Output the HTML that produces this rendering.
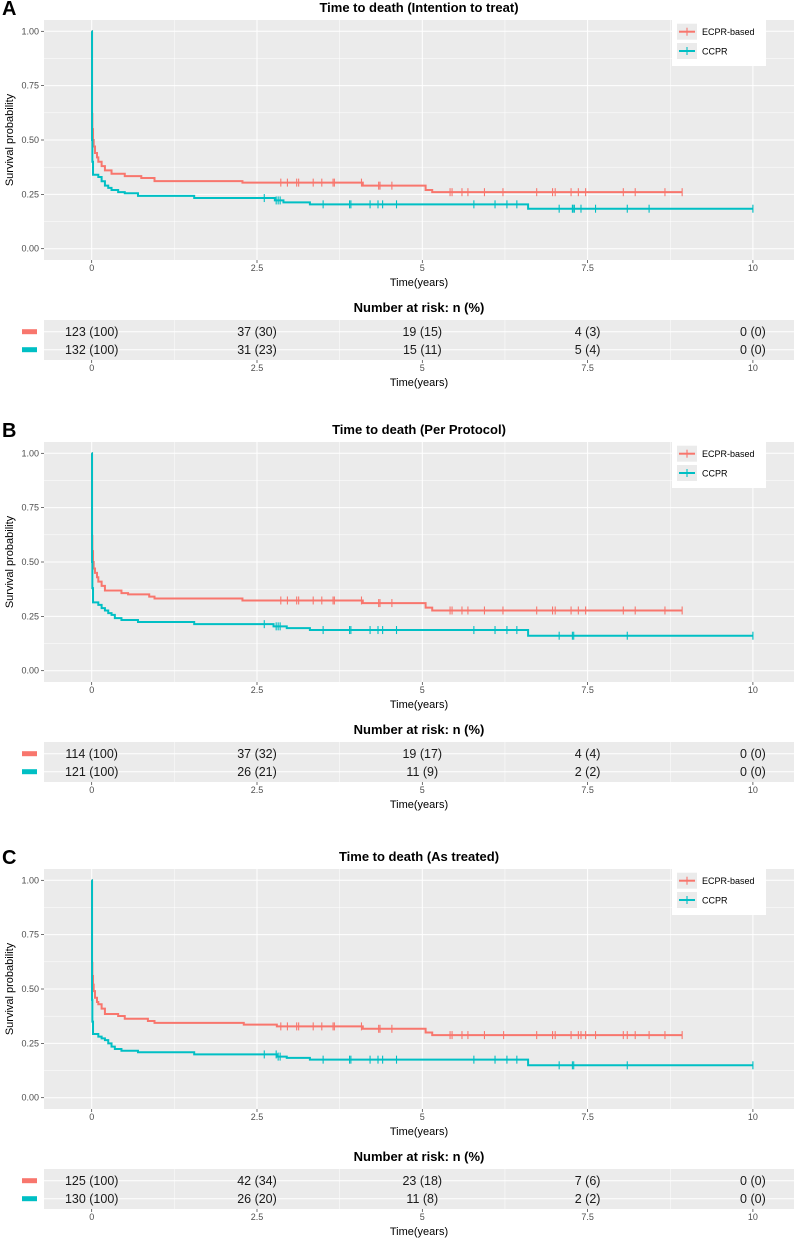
<!DOCTYPE html>
<html><head><meta charset="utf-8"><title>Kaplan-Meier survival</title>
<style>
html,body{margin:0;padding:0;background:#fff;}
svg{display:block;font-family:"Liberation Sans",Arial,sans-serif;}
</style></head>
<body>
<svg id="fig" width="794" height="1239" viewBox="0 0 794 1239" xmlns="http://www.w3.org/2000/svg"></svg>
<script>
// ---------- data ----------
const panelLetters = ["A","B","C"];
const panelTitles = ["Time to death (Intention to treat)","Time to death (Per Protocol)","Time to death (As treated)"];
const groupNames = ["ECPR-based","CCPR"];
const yTicks = [0,0.25,0.5,0.75,1];
const yTickLabels = ["0.00","0.25","0.50","0.75","1.00"];
const xTicks = [0,2.5,5,7.5,10];
const xTickLabels = ["0","2.5","5","7.5","10"];

const ecprTimesA = [0,0.005,0.01,0.02,0.03,0.05,0.08,0.1,0.15,0.2,0.3,0.5,0.75,0.95,2.28,4.1,5.05,5.15];
const ecprSurvA  = [1,0.62,0.55,0.5,0.47,0.44,0.42,0.40,0.38,0.36,0.345,0.334,0.325,0.311,0.304,0.29,0.27,0.26];
const ccprTimesA = [0,0.005,0.01,0.02,0.1,0.15,0.2,0.25,0.3,0.4,0.5,0.7,1.55,2.77,2.9,3.3,6.6];
const ccprSurvA  = [1,0.5,0.4,0.34,0.33,0.31,0.29,0.28,0.27,0.26,0.255,0.243,0.233,0.222,0.213,0.204,0.184];

const ecprTimesB = [0,0.005,0.01,0.02,0.03,0.05,0.08,0.1,0.15,0.2,0.45,0.55,0.87,0.95,2.28,4.1,5.05,5.15];
const ecprSurvB  = [1,0.62,0.55,0.5,0.47,0.45,0.43,0.41,0.39,0.369,0.357,0.351,0.341,0.332,0.323,0.311,0.29,0.277];
const ccprTimesB = [0,0.005,0.01,0.02,0.1,0.15,0.2,0.25,0.3,0.35,0.45,0.7,1.55,2.75,2.95,3.3,6.6];
const ccprSurvB  = [1,0.5,0.38,0.314,0.303,0.288,0.277,0.265,0.257,0.242,0.233,0.224,0.214,0.204,0.196,0.187,0.161];

const ecprTimesC = [0,0.005,0.01,0.02,0.03,0.05,0.08,0.1,0.15,0.2,0.4,0.5,0.85,0.95,2.3,2.8,4.1,5.05,5.15];
const ecprSurvC  = [1,0.62,0.56,0.52,0.49,0.46,0.44,0.43,0.41,0.385,0.376,0.363,0.353,0.344,0.336,0.328,0.317,0.30,0.288];
const ccprTimesC = [0,0.005,0.01,0.02,0.1,0.15,0.2,0.25,0.3,0.35,0.45,0.7,1.55,2.8,2.95,3.3,6.6];
const ccprSurvC  = [1,0.45,0.35,0.293,0.281,0.273,0.265,0.25,0.235,0.224,0.216,0.209,0.199,0.189,0.183,0.175,0.149];

const ecprEnd = [8.93,8.93,8.93];
const ccprEnd = [10,10,10];

const ecprCensorA = [2.86,2.96,3.10,3.13,3.35,3.48,3.65,3.67,4.08,4.34,4.36,4.54,5.42,5.45,5.60,5.69,5.94,6.22,6.73,6.97,7.01,7.25,7.36,7.47,8.04,8.22,8.67,8.93];
const ccprCensorA = [2.61,2.79,2.82,2.85,3.50,3.90,3.92,4.21,4.33,4.40,4.61,5.78,6.10,6.28,6.43,7.07,7.27,7.28,7.30,7.40,7.62,8.10,8.43,10.0];
const ecprCensorB = [2.86,2.96,3.10,3.13,3.35,3.48,3.65,3.67,4.08,4.34,4.36,4.54,5.42,5.45,5.60,5.69,5.94,6.22,6.73,6.97,7.01,7.25,7.36,7.47,8.04,8.22,8.67,8.93];
const ccprCensorB = [2.61,2.79,2.82,2.85,3.50,3.90,3.92,4.21,4.33,4.40,4.61,5.78,6.10,6.28,6.43,7.07,7.27,7.29,8.10,10.0];
const ecprCensorC = [2.86,2.96,3.10,3.13,3.35,3.48,3.65,3.67,4.08,4.34,4.36,4.54,5.42,5.45,5.60,5.69,5.94,6.23,6.73,6.97,7.01,7.25,7.36,7.40,7.47,7.62,8.04,8.10,8.22,8.43,8.67,8.93];
const ccprCensorC = [2.61,2.79,2.82,2.85,3.50,3.90,3.92,4.21,4.33,4.40,4.61,5.78,6.10,6.28,6.43,7.07,7.27,7.29,8.10,10.0];

const riskEcprA = ["123 (100)","37 (30)","19 (15)","4 (3)","0 (0)"];
const riskCcprA = ["132 (100)","31 (23)","15 (11)","5 (4)","0 (0)"];
const riskEcprB = ["114 (100)","37 (32)","19 (17)","4 (4)","0 (0)"];
const riskCcprB = ["121 (100)","26 (21)","11 (9)","2 (2)","0 (0)"];
const riskEcprC = ["125 (100)","42 (34)","23 (18)","7 (6)","0 (0)"];
const riskCcprC = ["130 (100)","26 (20)","11 (8)","2 (2)","0 (0)"];

const panelOffsets = [0,422,849];

// ---------- rendering ----------
const NS="http://www.w3.org/2000/svg";
const svg=document.getElementById('fig');
const COLORS=["#F8766D","#00BFC4"];
const PL=44, PR=794;
function sx(t){return 91.7+t*66.12;}
function mk(tag,attrs,parent,text){const e=document.createElementNS(NS,tag);for(const k in attrs)e.setAttribute(k,attrs[k]);if(text!==undefined)e.textContent=text;parent.appendChild(e);return e;}

const allData=[
 {et:ecprTimesA,es:ecprSurvA,ct:ccprTimesA,cs:ccprSurvA,ec:ecprCensorA,cc:ccprCensorA,re:riskEcprA,rc:riskCcprA},
 {et:ecprTimesB,es:ecprSurvB,ct:ccprTimesB,cs:ccprSurvB,ec:ecprCensorB,cc:ccprCensorB,re:riskEcprB,rc:riskCcprB},
 {et:ecprTimesC,es:ecprSurvC,ct:ccprTimesC,cs:ccprSurvC,ec:ecprCensorC,cc:ccprCensorC,re:riskEcprC,rc:riskCcprC}
];

function survAt(times,surv,t){let s=surv[0];for(let i=0;i<times.length;i++){if(times[i]<=t)s=surv[i];}return s;}

for(let p=0;p<3;p++){
  const off=panelOffsets[p], d=allData[p];
  const sy=v=>off+248.7-v*217.4;
  const g=mk('g',{},svg);
  
  
  const letter=mk('text',{x:2,y:off+15,'font-size':20,'font-weight':'bold',fill:'#000'},g,panelLetters[p]);
  
  
  const title=mk('text',{x:419,y:off+12,'font-size':13,'font-weight':'bold','text-anchor':'middle',fill:'#000'},g,panelTitles[p]);
  
  
  const bg=mk('rect',{x:PL,y:off+20,width:PR-PL,height:240,fill:'#ebebeb'},g);
  
  
  for(let i=0;i<yTicks.length-1;i++){const v=(yTicks[i]+yTicks[i+1])/2;mk('line',{x1:PL,x2:PR,y1:sy(v),y2:sy(v),stroke:'#fff','stroke-width':0.5},g);}
  for(let i=0;i<xTicks.length-1;i++){const v=(xTicks[i]+xTicks[i+1])/2;mk('line',{x1:sx(v),x2:sx(v),y1:off+20,y2:off+260,stroke:'#fff','stroke-width':0.5},g);}
  yTicks.forEach((v,i)=>{
    mk('line',{x1:PL,x2:PR,y1:sy(v),y2:sy(v),stroke:'#fff','stroke-width':1},g);
    mk('line',{x1:41,x2:44,y1:sy(v),y2:sy(v),stroke:'#333','stroke-width':0.7},g);
    const t=mk('text',{x:39,y:sy(v)+3,'font-size':9,'text-anchor':'end',fill:'#4d4d4d'},g,yTickLabels[i]);
    
    
  });
  xTicks.forEach((v,i)=>{
    mk('line',{x1:sx(v),x2:sx(v),y1:off+20,y2:off+260,stroke:'#fff','stroke-width':1},g);
    mk('line',{x1:sx(v),x2:sx(v),y1:off+260,y2:off+263,stroke:'#333','stroke-width':0.7},g);
    const t=mk('text',{x:sx(v),y:off+271,'font-size':9,'text-anchor':'middle',fill:'#4d4d4d'},g,xTickLabels[i]);
    
    
  });
  const yt=mk('text',{x:0,y:0,'font-size':11,'text-anchor':'middle',fill:'#000',transform:`translate(13,${off+140}) rotate(-90)`},g,'Survival probability');
  
  
  const xt=mk('text',{x:419,y:off+286,'font-size':11,'text-anchor':'middle',fill:'#000'},g,'Time(years)');
  
  
  const series=[[d.et,d.es,d.ec,ecprEnd[p]],[d.ct,d.cs,d.cc,ccprEnd[p]]];
  series.forEach((s,k)=>{
    const [T,S,C,end]=s;
    let dd=`M${sx(T[0])},${sy(S[0])}`;
    for(let i=1;i<T.length;i++){dd+=` H${sx(T[i])} V${sy(S[i])}`;}
    dd+=` H${sx(end)}`;
    const path=mk('path',{d:dd,fill:'none',stroke:COLORS[k],'stroke-width':2},g);
    
    
    C.forEach(t=>{
      const y=sy(survAt(T,S,t));
      const m=mk('line',{x1:sx(t),x2:sx(t),y1:y-4,y2:y+4,stroke:COLORS[k],'stroke-width':1.1},g);
      
      
    });
  });
  const lg=mk('g',{},g);
  
  
  mk('rect',{x:672,y:off+20,width:94,height:46,fill:'#fff'},lg);
  groupNames.forEach((n,k)=>{
    const yy=off+31.7+k*19.3;
    const e=mk('g',{},lg);
    
    
    mk('rect',{x:677,y:yy-8,width:20,height:16,fill:'#ebebeb'},e);
    mk('line',{x1:679,x2:695,y1:yy,y2:yy,stroke:COLORS[k],'stroke-width':2},e);
    mk('line',{x1:687,x2:687,y1:yy-4,y2:yy+4,stroke:COLORS[k],'stroke-width':1.1},e);
    mk('text',{x:702,y:yy+3.5,'font-size':9,fill:'#000'},e,n);
  });
  const rt=mk('text',{x:419,y:off+312,'font-size':13,'font-weight':'bold','text-anchor':'middle',fill:'#000'},g,'Number at risk: n (%)');
  
  
  const tb=mk('rect',{x:PL,y:off+320,width:PR-PL,height:40,fill:'#ebebeb'},g);
  
  
  for(let i=0;i<xTicks.length-1;i++){const v=(xTicks[i]+xTicks[i+1])/2;mk('line',{x1:sx(v),x2:sx(v),y1:off+320,y2:off+360,stroke:'#fff','stroke-width':0.5},g);}
  const rowY=[off+331.7,off+349.7];
  rowY.forEach(y=>mk('line',{x1:PL,x2:PR,y1:y,y2:y,stroke:'#fff','stroke-width':1},g));
  [d.re,d.rc].forEach((vals,k)=>{
    const sw=mk('rect',{x:22,y:rowY[k]-2.5,width:15,height:5,fill:COLORS[k]},g);
    
    
    vals.forEach((v,i)=>{
      const t=mk('text',{x:sx(xTicks[i]),y:rowY[k]+4.5,'font-size':12.5,'text-anchor':'middle',fill:'#1a1a1a'},g,v);
      
      
    });
  });
  xTicks.forEach((v,i)=>{
    mk('line',{x1:sx(v),x2:sx(v),y1:off+360,y2:off+363,stroke:'#333','stroke-width':0.7},g);
    const t=mk('text',{x:sx(v),y:off+371,'font-size':9,'text-anchor':'middle',fill:'#4d4d4d'},g,xTickLabels[i]);
    
    
  });
  const rx=mk('text',{x:419,y:off+386,'font-size':11,'text-anchor':'middle',fill:'#000'},g,'Time(years)');
  
  
}
</script>
</body></html>
